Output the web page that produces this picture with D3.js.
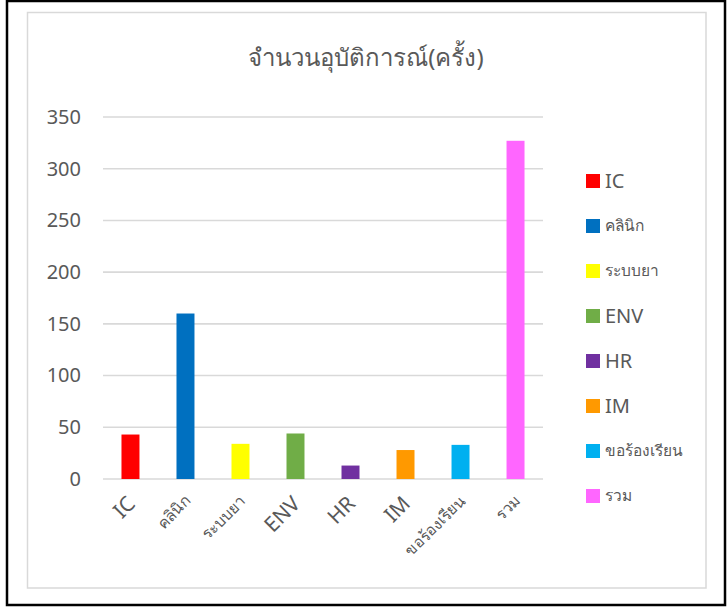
<!DOCTYPE html>
<html>
<head>
<meta charset="utf-8">
<script src="https://cdn.jsdelivr.net/npm/d3@7"></script>
<style>
  body { margin: 0; background: #fff; }
  text { font-family: "Noto Sans", "DejaVu Sans", sans-serif; fill: #595959; }
</style>
</head>
<body>
<div id="chart"></div>
<script>
const categories = ['IC', 'คลินิก', 'ระบบยา', 'ENV', 'HR', 'IM', 'ขอร้องเรียน', 'รวม'];
const counts = [43, 160, 34, 44, 13, 28, 33, 327];
const colors = ['#FF0000', '#0070C0', '#FFFF00', '#70AD47', '#7030A0', '#FF9900', '#00B0F0', '#FF66FF'];
const yTicks = [0, 50, 100, 150, 200, 250, 300, 350];
const title = 'จำนวนอุบัติการณ์(ครั้ง)';

const data = categories.map((c, i) => ({ name: c, value: counts[i], color: colors[i] }));

const width = 727, height = 607;

// thai glyphs come out bigger in the fallback font, so shrink them
const isThai = s => /[\u0E00-\u0E7F]/.test(s);
const labelSize = s => isThai(s) ? '15.5px' : '20px';

const svg = d3.select('#chart')
    .append('svg')
    .attr('width', width)
    .attr('height', height);

// outer black frame and inner chart border
svg.append('rect')
    .attr('x', 7).attr('y', 1)
    .attr('width', 718).attr('height', 604)
    .style('fill', 'none')
    .style('stroke', '#000')
    .style('stroke-width', 2.5);

svg.append('rect')
    .attr('x', 27.5).attr('y', 12.5)
    .attr('width', 678.5).attr('height', 575.5)
    .style('fill', 'none')
    .style('stroke', '#d9d9d9')
    .style('stroke-width', 1.5);

let scaleX = d3.scaleBand().range([103, 543]).domain(categories).paddingInner(0.673).paddingOuter(0.336);
let scaleY = d3.scaleLinear().range([479, 117]).domain([0, 350]);

// gridlines
svg.append('g')
    .selectAll('line')
    .data(yTicks)
    .enter()
    .append('line')
    .attr('x1', 103)
    .attr('x2', 543)
    .attr('y1', d => scaleY(d))
    .attr('y2', d => scaleY(d))
    .style('stroke', '#d9d9d9')
    .style('stroke-width', 1.6);

let yAxis = d3.axisLeft(scaleY).tickValues(yTicks).tickSize(0).tickPadding(22);
let yAxisGroup = svg.append('g')
    .attr('transform', 'translate(103,0)')
    .call(yAxis);
yAxisGroup.select('.domain').remove();
yAxisGroup.selectAll('text')
    .style('font-size', '20px')
    .style('fill', '#595959');

svg.append('g')
    .selectAll('rect')
    .data(data)
    .enter()
    .append('rect')
    .attr('x', d => scaleX(d.name))
    .attr('y', d => scaleY(d.value))
    .attr('width', scaleX.bandwidth())
    .attr('height', d => scaleY(0) - scaleY(d.value))
    .style('fill', d => d.color);

// rotated category labels
svg.append('g')
    .selectAll('text')
    .data(categories)
    .enter()
    .append('text')
    .attr('transform', d => 'translate(' + (scaleX(d) + scaleX.bandwidth() / 2 + 6) + ',' + (isThai(d) ? 502 : 505) + ') rotate(-45)')
    .style('text-anchor', 'end')
    .style('font-size', d => isThai(d) ? '15.5px' : '21px')
    .text(d => d);

svg.append('text')
    .attr('x', 366)
    .attr('y', 66)
    .style('text-anchor', 'middle')
    .style('font-size', '24px')
    .text(title);

// legend
let legend = svg.append('g')
    .selectAll('g')
    .data(data)
    .enter()
    .append('g')
    .attr('transform', (d, i) => 'translate(586,' + (181 + i * 45) + ')');

legend.append('rect')
    .attr('x', 0).attr('y', -7)
    .attr('width', 14).attr('height', 14)
    .style('fill', d => d.color);

legend.append('text')
    .attr('x', 19)
    .attr('y', d => isThai(d.name) ? 5 : 7)
    .style('font-size', d => labelSize(d.name))
    .text(d => d.name);
</script>
</body>
</html>
